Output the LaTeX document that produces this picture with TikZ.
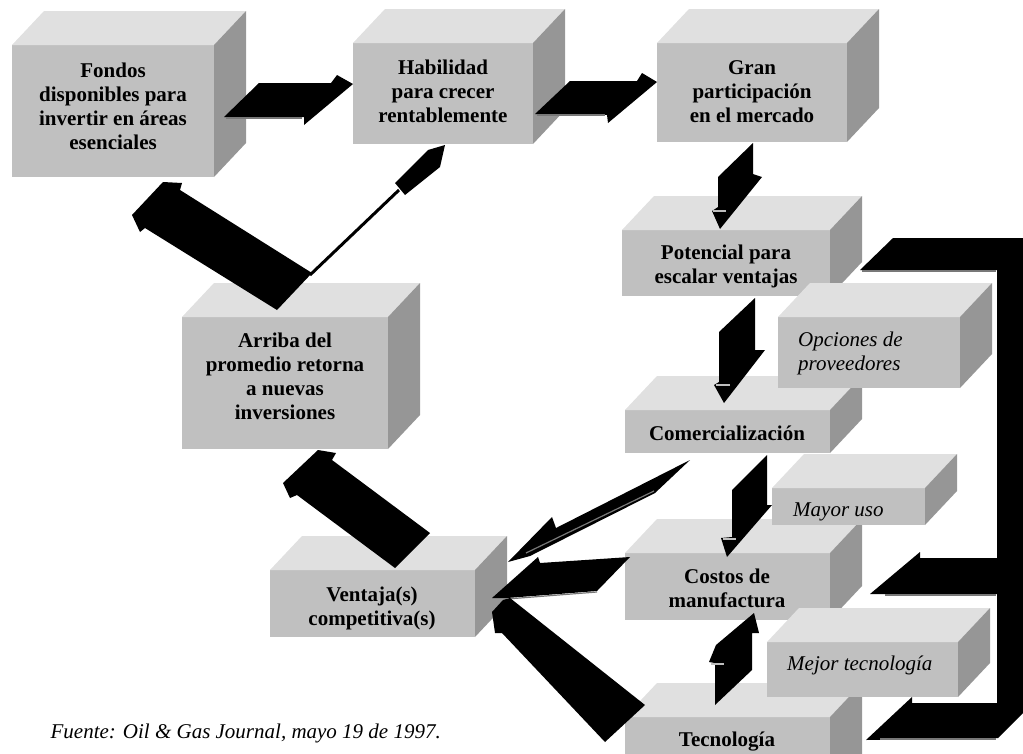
\documentclass[tikz,border=0pt]{standalone}
\usepackage{fontspec}
\setmainfont{Liberation Serif}
\definecolor{boxfront}{RGB}{192,192,192}
\definecolor{boxtop}{RGB}{224,224,224}
\definecolor{boxside}{RGB}{150,150,150}
\definecolor{edgegray}{RGB}{120,120,120}
\definecolor{lightmark}{RGB}{190,190,190}
\tikzset{
  front/.style={fill=boxfront, draw=none, inner sep=0pt, outer sep=0pt, anchor=north west},
  boldtxt/.style={font=\fontsize{21}{24}\selectfont\bfseries, align=center, inner sep=0pt, anchor=base},
  italtxt/.style={font=\fontsize{21}{24}\selectfont\itshape, align=left, inner sep=0pt, anchor=base west},
  blockarrow/.style={fill=black, draw=none},
  hilite/.style={draw=edgegray, line width=1.2pt},
  tipmark/.style={draw=lightmark, line width=1.5pt},
}
\newcommand\cubebox[5]{%
  \node[front, minimum width={#4-#2}, minimum height={#5-#3}] (#1) at (#2,#3) {};
  \fill[boxtop] (#1.north west) -- ++(32,-34) -- ([shift={(32,-34)}]#1.north east) -- (#1.north east) -- cycle;
  \fill[boxside] (#1.north east) -- ++(32,-34) -- ([shift={(32,-34)}]#1.south east) -- (#1.south east) -- cycle;
}
\begin{document}
\begin{tikzpicture}[x=1pt,y=-1pt]
\useasboundingbox (0,0) rectangle (1023,753);
\clip (0,0) rectangle (1023,753);
% main chain boxes
\cubebox{fondos}{12}{45}{214}{177}
\cubebox{habil}{353}{43}{533}{144}
\cubebox{gran}{657}{43}{847}{142}
\cubebox{arriba}{182}{317}{388}{449}
\cubebox{ventaja}{270}{570}{475}{637}
\cubebox{poten}{622}{230}{830}{296}
\cubebox{comer}{625}{410}{830}{453}
\cubebox{costos}{625}{553}{830}{620}
\cubebox{tecno}{625}{717}{830}{800}
% option boxes
\cubebox{opc}{778}{317}{960}{388}
\cubebox{mayor}{772}{488}{925}{525}
\cubebox{mejor}{767}{642}{958}{697}
% texts (anchor = baseline of the last line)
\node[boldtxt] (tfondos) at (113,149) {Fondos\\disponibles para\\invertir en áreas\\esenciales};
\node[boldtxt] (thabil) at (443,122) {Habilidad\\para crecer\\rentablemente};
\node[boldtxt] (tgran) at (752,122) {Gran\\participación\\en el mercado};
\node[boldtxt] (tpoten) at (726,283) {Potencial para\\escalar ventajas};
\node[boldtxt] (tcomer) at (727,440) {Comercialización};
\node[boldtxt] (tcostos) at (727,607) {Costos de\\manufactura};
\node[boldtxt] (ttecno) at (727,746) {Tecnología};
\node[boldtxt] (tarriba) at (285,419) {Arriba del\\promedio retorna\\a nuevas\\inversiones};
\node[boldtxt] (tventaja) at (372,625) {Ventaja(s)\\competitiva(s)};
\node[italtxt] (topc) at (798,370) {Opciones de\\proveedores};
\node[italtxt] (tmayor) at (793,516) {Mayor uso};
\node[italtxt] (tmejor) at (787,670) {Mejor tecnología};
\node[font=\fontsize{21}{24}\selectfont\itshape, inner sep=0pt, anchor=base east] (fuente) at (441,738) {Fuente: Oil \& Gas Journal, mayo 19 de 1997.};
% block arrows
% fondos -> habilidad
\fill[blockarrow] (224,117) -- (259,83) -- (331,83) -- (337,75) -- (353,84) -- (304,125) -- (304,117) -- cycle;
\draw[hilite] (226,118) -- (302,118);
% habilidad -> gran
\fill[blockarrow] (535,114) -- (570,81) -- (637,81) -- (642,73) -- (657,82) -- (608,123) -- (607,115) -- cycle;
\draw[hilite] (537,115) -- (605,115);
% gran -> potencial
\fill[blockarrow] (718,177) -- (753,143) -- (753,174) -- (762,177) -- (720,229) -- (712,211) -- (718,207) -- cycle;
\draw[tipmark] (713,211) -- (726,211);
% potencial -> comercializacion
\fill[blockarrow] (719,332) -- (755,298) -- (755,350) -- (765,350) -- (724,403) -- (714,385) -- (719,382) -- cycle;
\draw[tipmark] (716,385) -- (730,385);
% comercializacion -> costos
\fill[blockarrow] (732,490) -- (767,455) -- (767,505) -- (772,505) -- (727,557) -- (721,538) -- (732,537) -- cycle;
\draw[tipmark] (723,539) -- (736,539);
% tecnologia -> costos
\fill[blockarrow] (715,705) -- (715,663) -- (709,662) -- (716,645) -- (754,613) -- (759,633) -- (752,633) -- (752,670) -- cycle;
\draw[tipmark] (711,664) -- (724,664);
% comercializacion -> ventaja
\fill[blockarrow] (690,460) -- (556,528) -- (552,517) -- (508,562) -- (530,556) -- (655,493) -- cycle;
\draw[hilite] (526,553) -- (654,491);
% costos -> ventaja
\fill[blockarrow] (630,557) -- (540,563) -- (538,557) -- (492,598) -- (507,598) -- (597,591) -- cycle;
\draw[hilite] (507,599) -- (597,592);
% tecnologia -> ventaja
\fill[blockarrow] (645,705) -- (510,598) -- (503,600) -- (492,612) -- (495,633) -- (502,633) -- (605,742) -- cycle;
% ventaja -> arriba
\fill[blockarrow] (430,533) -- (332,460) -- (336,453) -- (318,450) -- (283,483) -- (290,498) -- (297,495) -- (395,568) -- cycle;
% arriba -> fondos
\fill[blockarrow] (277,310) -- (312,273) -- (180,190) -- (182,183) -- (163,182) -- (132,215) -- (140,232) -- (145,228) -- cycle;
% arriba -> habilidad (thin)
\draw[line width=3pt] (310,275) -- (399,190);
\fill[blockarrow] (395,183) -- (428,150) -- (445,145) -- (440,167) -- (405,195) -- cycle;
% feedback bracket
\fill[blockarrow] (860,270) -- (893,238) -- (1023,238) -- (1023,713) -- (998,738) -- (866,740) -- (912,697) -- (912,703) -- (997,703) -- (997,594) -- (870,594) -- (920,552) -- (920,558) -- (997,558) -- (997,270) -- cycle;
\draw[hilite] (862,271) -- (996,271);
\draw[hilite] (885,595) -- (996,595);
\draw[hilite] (880,739) -- (996,739);
\end{tikzpicture}
\end{document}
